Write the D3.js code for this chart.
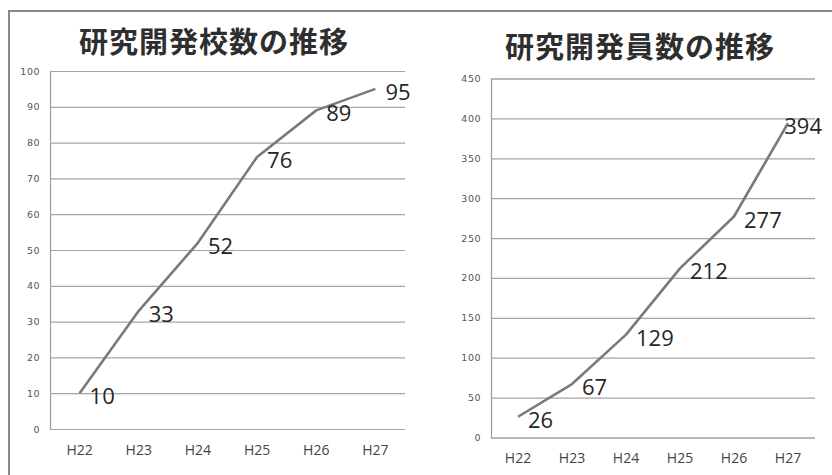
<!DOCTYPE html>
<html>
<head>
<meta charset="utf-8">
<script src="https://cdn.jsdelivr.net/npm/d3@7"></script>
<style>
  html, body { margin: 0; padding: 0; background: #fff; }
  svg { display: block; }
</style>
</head>
<body>
<svg id="chart" width="832" height="475"></svg>
<script>
// Fiscal years (Heisei era)
const years = ["H22", "H23", "H24", "H25", "H26", "H27"];

// Number of research & development schools per year
const schoolTitle = "研究開発校数の推移";
const schoolCounts = [10, 33, 52, 76, 89, 95];
const schoolTicks = [0, 10, 20, 30, 40, 50, 60, 70, 80, 90, 100];

// Number of research & development staff per year
const staffTitle = "研究開発員数の推移";
const staffCounts = [26, 67, 129, 212, 277, 394];
const staffTicks = [0, 50, 100, 150, 200, 250, 300, 350, 400, 450];

const svg = d3.select("#chart");

// Outer frame (top and left edges)
svg.append("path")
  .attr("d", "M9,475 V11 H832")
  .attr("fill", "none")
  .attr("stroke", "#8a8a8a")
  .attr("stroke-width", 2);

function drawPanel(cfg) {
  const g = svg.append("g");
  const x = d3.scaleBand().domain(years).range([cfg.left, cfg.right]);
  const y = d3.scaleLinear().domain([0, d3.max(cfg.ticks)]).range([cfg.bottom, cfg.top]);

  // Title
  g.append("text")
    .attr("x", cfg.titleX)
    .attr("y", cfg.titleY)
    .attr("text-anchor", "middle")
    .attr("dominant-baseline", "central")
    .attr("font-family", "'Noto Sans CJK JP', sans-serif")
    .attr("font-weight", "bold")
    .attr("font-size", 29)
    .attr("letter-spacing", 1)
    .attr("fill", "#2e2e2e")
    .text(cfg.title);

  // Horizontal gridlines + y tick labels
  const yAxis = d3.axisLeft(y).tickValues(cfg.ticks).tickSize(-(cfg.right - cfg.left)).tickPadding(10);
  const ya = g.append("g").attr("transform", `translate(${cfg.left},0)`).call(yAxis);
  ya.select(".domain").attr("stroke", "#9a9a9a").attr("stroke-width", 1.2);
  ya.selectAll(".tick line").attr("stroke", "#a4a4a4").attr("stroke-width", 1.2);
  ya.selectAll(".tick text")
    .attr("font-family", "'DejaVu Sans', sans-serif")
    .attr("font-size", 9.5)
    .attr("letter-spacing", 0.5)
    .attr("fill", "#555");

  // Category labels
  const xAxis = d3.axisBottom(x).tickSize(0).tickPadding(16);
  const xa = g.append("g").attr("transform", `translate(0,${cfg.bottom})`).call(xAxis);
  xa.select(".domain").remove();
  xa.selectAll(".tick text")
    .attr("font-family", "'Open Sans', sans-serif")
    .attr("font-size", 14)
    .attr("fill", "#444");

  const cx = d => x(d) + x.bandwidth() / 2;

  // Trend line
  const line = d3.line()
    .x((d, i) => cx(years[i]))
    .y(d => y(d));
  g.append("path")
    .datum(cfg.values)
    .attr("d", line)
    .attr("fill", "none")
    .attr("stroke", "#7a7a7a")
    .attr("stroke-width", 2.6)
    .attr("stroke-linejoin", "round");

  // Value labels, right of each point, kept inside the plot's right edge
  const labels = g.selectAll(".val")
    .data(cfg.values)
    .join("text")
    .attr("class", "val")
    .attr("y", d => y(d) + 2)
    .attr("dominant-baseline", "central")
    .attr("font-family", "'Open Sans', sans-serif")
    .attr("font-size", 22)
    .attr("fill", "#262626")
    .text(d => d);
  labels.each(function (d, i) {
    const w = this.getComputedTextLength();
    const px = Math.min(cx(years[i]) + 10, cfg.right + 7 - w);
    d3.select(this).attr("x", px);
  });
}

drawPanel({
  title: schoolTitle, values: schoolCounts, ticks: schoolTicks,
  left: 50, right: 405, top: 71, bottom: 429,
  titleX: 214, titleY: 40
});

drawPanel({
  title: staffTitle, values: staffCounts, ticks: staffTicks,
  left: 491, right: 815, top: 78.5, bottom: 437.5,
  titleX: 640, titleY: 45
});
</script>
</body>
</html>
